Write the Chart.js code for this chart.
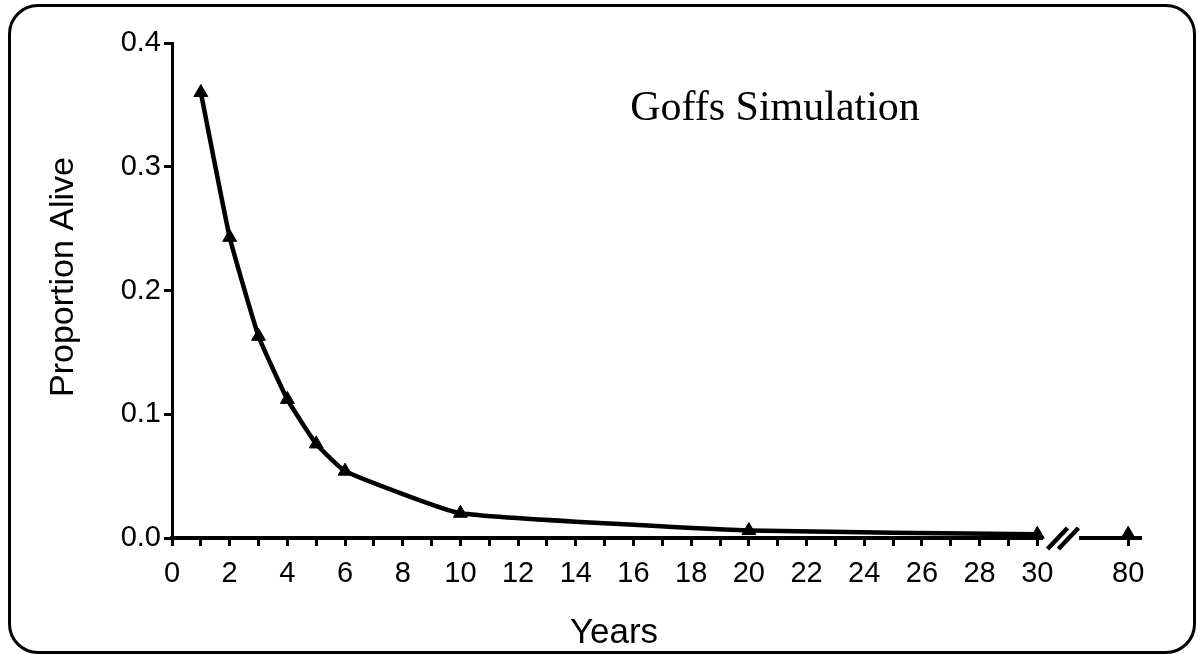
<!DOCTYPE html>
<html>
<head>
<meta charset="utf-8">
<title>Goffs Simulation</title>
<script src="https://cdn.jsdelivr.net/npm/chart.js@4"></script>
<style>
  html, body { margin: 0; padding: 0; background: #fff; }
  #wrap { position: relative; width: 1198px; height: 654px; overflow: hidden; }
  #frame {
    position: absolute; left: 8px; top: 4px; width: 1188px; height: 650px;
    box-sizing: border-box; border: 3px solid #000; border-radius: 30px;
  }
  #chart { position: absolute; left: 0; top: 0; }
</style>
</head>
<body>
<div id="wrap">
  <div id="frame"></div>
  <canvas id="chart" width="1198" height="654"></canvas>
</div>
<script>
const years = [1, 2, 3, 4, 5, 6, 10, 20, 30, 80];
const proportionAlive = [0.360, 0.243, 0.163, 0.112, 0.076, 0.054, 0.020, 0.006, 0.003, 0.003];

const yearTicks = [0, 1, 2, 3, 4, 5, 6, 7, 8, 9, 10, 11, 12, 13, 14, 15, 16, 17, 18, 19, 20,
                   21, 22, 23, 24, 25, 26, 27, 28, 29, 30, 80];
const labelledYears = [0, 2, 4, 6, 8, 10, 12, 14, 16, 18, 20, 22, 24, 26, 28, 30, 80];
const proportionTicks = [0, 0.1, 0.2, 0.3, 0.4];

const chartTitle = 'Goffs Simulation';
const xTitle = 'Years';
const yTitle = 'Proportion Alive';

const SANS = '"Liberation Sans", Arial, Helvetica, sans-serif';
const SERIF = '"Liberation Serif", "Times New Roman", serif';

// everything past 30 years is squeezed in after the axis break
const BREAK_YEAR = 30;
const FAR_POS = 33.15;
const toAxis = y => (y > BREAK_YEAR ? FAR_POS : y);

// x axis line with a "//" break between 30 and 80
const axisBreak = {
  id: 'axisBreak',
  beforeDatasetsDraw(chart) {
    const { ctx, chartArea } = chart;
    const x = chart.scales.x;
    const y0 = chartArea.bottom;
    ctx.save();
    ctx.strokeStyle = '#000';
    ctx.lineWidth = 4;
    ctx.lineCap = 'butt';
    ctx.beginPath();
    ctx.moveTo(x.getPixelForValue(0) - 2, y0);
    ctx.lineTo(x.getPixelForValue(30.2), y0);
    ctx.moveTo(x.getPixelForValue(31.45), y0);
    ctx.lineTo(chartArea.right, y0);
    ctx.stroke();
    ctx.lineWidth = 4.5;
    ctx.beginPath();
    for (const v of [30.7, 31.08]) {
      const px = x.getPixelForValue(v);
      ctx.moveTo(px - 10, y0 + 11);
      ctx.lineTo(px + 10, y0 - 10);
    }
    ctx.stroke();
    ctx.restore();
  }
};

const captions = {
  id: 'captions',
  afterDraw(chart) {
    const { ctx } = chart;
    ctx.save();
    ctx.fillStyle = '#000';
    ctx.textAlign = 'center';
    ctx.textBaseline = 'alphabetic';
    ctx.font = '42px ' + SERIF;
    ctx.fillText(chartTitle, 775, 120);
    ctx.font = '35px ' + SANS;
    ctx.fillText(xTitle, 614, 643);
    ctx.translate(73, 277);
    ctx.rotate(-Math.PI / 2);
    ctx.font = '34px ' + SANS;
    ctx.fillText(yTitle, 0, 0);
    ctx.restore();
  }
};

const chart = new Chart(document.getElementById('chart').getContext('2d'), {
  type: 'line',
  data: {
    datasets: [{
      data: years.map((y, i) => ({ x: toAxis(y), y: proportionAlive[i] })),
      borderColor: '#000',
      backgroundColor: '#000',
      borderWidth: 4.5,
      tension: 0.12,
      pointStyle: 'triangle',
      pointRadius: 8,
      pointBorderWidth: 1,
      clip: false,
      segment: {
        // no line across the break
        borderColor: c => (c.p1.parsed.x > BREAK_YEAR + 1 ? 'rgba(0,0,0,0)' : '#000')
      }
    }]
  },
  options: {
    responsive: false,
    animation: false,
    events: [],
    layout: { padding: { top: 43, right: 56, left: 0, bottom: 0 } },
    plugins: { legend: { display: false }, tooltip: { enabled: false } },
    scales: {
      x: {
        type: 'linear',
        min: 0,
        max: 33.63,
        afterBuildTicks: axis => { axis.ticks = yearTicks.map(y => ({ value: toAxis(y) })); },
        afterFit: scale => { scale.height = 116; },
        border: { display: false },
        grid: { drawOnChartArea: false, drawTicks: true, tickLength: 8, color: '#000', lineWidth: 3 },
        ticks: {
          autoSkip: false,
          maxRotation: 0,
          color: '#000',
          padding: 11,
          font: { family: SANS, size: 29 },
          callback: (v, i) => (labelledYears.includes(yearTicks[i]) ? String(yearTicks[i]) : '')
        }
      },
      y: {
        min: 0,
        max: 0.4,
        afterBuildTicks: axis => { axis.ticks = proportionTicks.map(v => ({ value: v })); },
        afterFit: scale => { scale.width = 172; },
        border: { display: true, color: '#000', width: 3 },
        grid: { drawOnChartArea: false, drawTicks: true, tickLength: 8, color: '#000', lineWidth: 3 },
        ticks: {
          color: '#000',
          padding: 3,
          font: { family: SANS, size: 29 },
          callback: v => v.toFixed(1)
        }
      }
    }
  },
  plugins: [axisBreak, captions]
});
</script>
</body>
</html>
